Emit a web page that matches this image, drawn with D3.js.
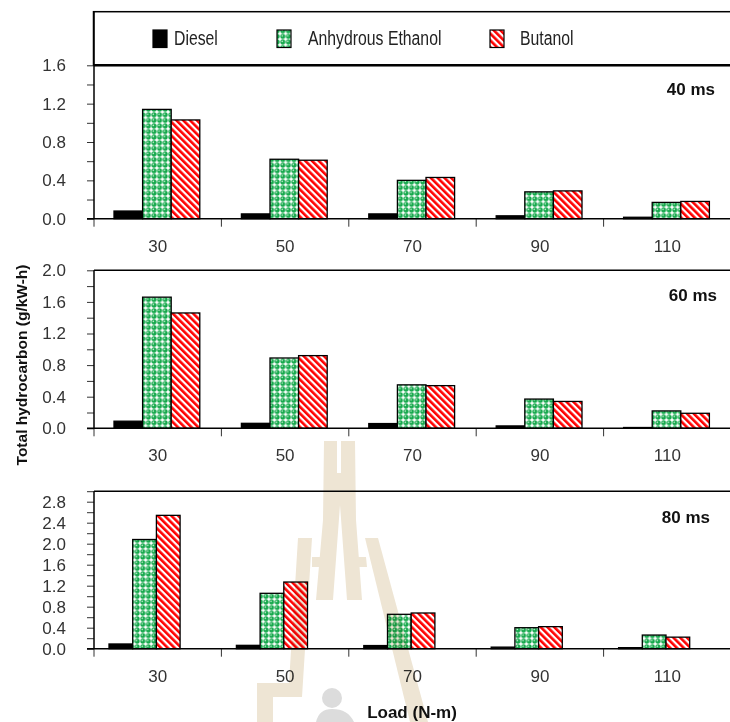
<!DOCTYPE html>
<html>
<head>
<meta charset="utf-8">
<script src="https://cdn.jsdelivr.net/npm/d3@7"></script>
<style>
body { margin: 0; background: #fff; }
svg text { font-family: "Liberation Sans", Arial, sans-serif; }
</style>
</head>
<body>
<svg id="chart" width="730" height="722"></svg>
<script>
// data (g/kW-h)
const loads = ['30', '50', '70', '90', '110'];
const series = ['Diesel', 'Anhydrous Ethanol', 'Butanol'];

const diesel40 = [0.08, 0.05, 0.05, 0.03, 0.015];
const ethanol40 = [1.14, 0.62, 0.40, 0.28, 0.17];
const butanol40 = [1.03, 0.61, 0.43, 0.29, 0.18];

const diesel60 = [0.09, 0.063, 0.06, 0.03, 0.01];
const ethanol60 = [1.66, 0.89, 0.55, 0.37, 0.22];
const butanol60 = [1.46, 0.92, 0.54, 0.34, 0.19];

const diesel80 = [0.09, 0.064, 0.06, 0.03, 0.02];
const ethanol80 = [2.08, 1.055, 0.655, 0.40, 0.26];
const butanol80 = [2.54, 1.27, 0.68, 0.42, 0.22];

const panelTags = ['40 ms', '60 ms', '80 ms'];
const yMax = [1.6, 2.0, 3.0];
const yLabelMax = [1.6, 2.0, 2.8];

const panelData = [
    [diesel40, ethanol40, butanol40],
    [diesel60, ethanol60, butanol60],
    [diesel80, ethanol80, butanol80]
];

const svg = d3.select('#chart');
const defs = svg.append('defs');

// fill patterns
const pe = defs.append('pattern').attr('id', 'pat-eth')
    .attr('patternUnits', 'userSpaceOnUse').attr('width', 5.6).attr('height', 5.6);
pe.append('rect').attr('width', 5.6).attr('height', 5.6).attr('fill', '#fff');
pe.append('circle').attr('cx', 2.8).attr('cy', 2.8).attr('r', 2.5).attr('fill', '#14a84b');
pe.append('circle').attr('cx', 2.2).attr('cy', 2.2).attr('r', 0.8).attr('fill', '#c4ecd0');

const pb = defs.append('pattern').attr('id', 'pat-but')
    .attr('patternUnits', 'userSpaceOnUse').attr('width', 4.8).attr('height', 10)
    .attr('patternTransform', 'rotate(-45)');
pb.append('rect').attr('width', 4.8).attr('height', 10).attr('fill', '#fff');
pb.append('rect').attr('width', 2.6).attr('height', 10).attr('fill', '#ff0000');

const fills = {'Diesel': '#000', 'Anhydrous Ethanol': 'url(#pat-eth)', 'Butanol': 'url(#pat-but)'};

const plotL = 94, plotR = 731;
const layout = [
    {top: 65.3, zero: 218.7, off: 20, bw: 28.6, tagX: 715, tagY: 95, topW: 2.5},
    {top: 270.3, zero: 428.3, off: 20, bw: 28.6, tagX: 717, tagY: 300.7, topW: 1.5},
    {top: 491.2, zero: 648.7, off: 15, bw: 23.7, tagX: 710, tagY: 522.7, topW: 1.5}
];

const x = d3.scaleBand().domain(loads).range([plotL, plotR]);

// legend box
svg.append('rect')
    .attr('x', 93.5).attr('y', 11.7)
    .attr('width', 700).attr('height', 53.6)
    .attr('fill', 'none').attr('stroke', '#000').attr('stroke-width', 1.5);

const legSwatchX = [153, 277, 490];
const legTextX = [174, 308, 520];
series.forEach((s, i) => {
    svg.append('rect')
        .attr('x', legSwatchX[i]).attr('y', 30)
        .attr('width', 14).attr('height', 17.5)
        .attr('fill', fills[s]).attr('stroke', '#000').attr('stroke-width', 1.2);
    svg.append('text')
        .attr('transform', `translate(${legTextX[i]},45) scale(1,1.25)`)
        .attr('font-size', 15.8)
        .attr('fill', '#222')
        .text(s);
});

layout.forEach((L, p) => {
    const g = svg.append('g');
    const y = d3.scaleLinear().domain([0, yMax[p]]).range([L.zero, L.top]);
    const inner = d3.scaleBand().domain(series).range([L.off, L.off + 3 * L.bw]);

    const rows = [];
    loads.forEach((l, i) => {
        series.forEach((s, j) => rows.push({load: l, s: s, v: panelData[p][j][i]}));
    });

    g.selectAll('rect.bar').data(rows)
        .enter().append('rect')
            .attr('class', 'bar')
            .attr('x', d => x(d.load) + inner(d.s))
            .attr('y', d => y(d.v))
            .attr('width', inner.bandwidth())
            .attr('height', d => y(0) - y(d.v))
            .attr('fill', d => fills[d.s])
            .attr('stroke', '#000')
            .attr('stroke-width', 1.3);

    // y axis
    const nTicks = Math.round(yMax[p] / 0.2);
    const ticks = d3.range(0, nTicks + 1).map(k => +(k * 0.2).toFixed(1));
    const yAxis = d3.axisLeft(y)
        .tickValues(ticks)
        .tickSize(7)
        .tickPadding(21)
        .tickFormat(d => (Math.round(d * 10) % 4 === 0 && d <= yLabelMax[p] + 1e-9) ? d3.format('.1f')(d) : '');
    const yAxisG = g.append('g').attr('transform', `translate(${plotL},0)`).call(yAxis);
    yAxisG.select('.domain').remove();
    yAxisG.selectAll('line').attr('stroke', '#333');
    yAxisG.selectAll('text').attr('font-size', 17).attr('fill', '#333')
        .style('font-family', '"Liberation Sans", Arial, sans-serif');

    // x axis labels
    const xAxisG = g.append('g').attr('transform', `translate(0,${L.zero})`)
        .call(d3.axisBottom(x).tickSize(0).tickPadding(21));
    xAxisG.select('.domain').remove();
    xAxisG.selectAll('text').attr('font-size', 17).attr('fill', '#333')
        .style('font-family', '"Liberation Sans", Arial, sans-serif');

    // category boundary ticks
    g.selectAll('line.xt').data(loads)
        .enter().append('line')
            .attr('class', 'xt')
            .attr('x1', d => x(d)).attr('x2', d => x(d))
            .attr('y1', L.zero).attr('y2', L.zero + 8)
            .attr('stroke', '#333').attr('stroke-width', 1);

    // frame lines
    g.append('line').attr('x1', plotL - 7).attr('x2', plotR)
        .attr('y1', y(0)).attr('y2', y(0))
        .attr('stroke', '#000').attr('stroke-width', 1.5);
    g.append('line').attr('x1', plotL).attr('x2', plotR)
        .attr('y1', L.top).attr('y2', L.top)
        .attr('stroke', '#000').attr('stroke-width', L.topW);
    g.append('line').attr('x1', plotL).attr('x2', plotL)
        .attr('y1', p === 0 ? 11.7 : L.top).attr('y2', L.zero)
        .attr('stroke', '#000').attr('stroke-width', 1.5);

    g.append('text')
        .attr('x', L.tagX).attr('y', L.tagY)
        .attr('text-anchor', 'end')
        .attr('font-size', 17).attr('font-weight', 'bold')
        .attr('fill', '#111')
        .text(panelTags[p]);
});

// axis titles
svg.append('text')
    .attr('transform', 'translate(27,365) rotate(-90)')
    .attr('text-anchor', 'middle')
    .attr('font-size', 15.5).attr('font-weight', 'bold')
    .attr('fill', '#111')
    .text('Total hydrocarbon (g/kW-h)');

svg.append('text')
    .attr('x', 412).attr('y', 717.5)
    .attr('text-anchor', 'middle')
    .attr('font-size', 17).attr('font-weight', 'bold')
    .attr('fill', '#111')
    .text('Load (N-m)');

// faint watermark of the source document
const wm = svg.append('g').style('mix-blend-mode', 'multiply');
const beige = '#eee5d4';
wm.append('path')
    .attr('fill', beige).attr('fill-rule', 'evenodd')
    .attr('d', 'M324,441 L355,441 L356,520 L362,600 L347,600 L340,505 L333,600 L316,600 L323,520 Z M337,441 L341,441 L341,473 L337,473 Z');
wm.append('path').attr('fill', beige)
    .attr('d', 'M312,557 L325,557 L324,567 L312,567 Z M355,557 L366,557 L367,567 L356,567 Z');
wm.append('path').attr('fill', beige)
    .attr('d', 'M298,538 L312,538 L302,697 L273,697 L273,722 L257,722 L257,683 L289,683 Z');
wm.append('path').attr('fill', beige)
    .attr('d', 'M365,538 L378,538 L428,722 L410,722 Z');
wm.append('circle').attr('cx', 332).attr('cy', 698).attr('r', 10).attr('fill', '#dcdcdc');
wm.append('path').attr('fill', '#dcdcdc')
    .attr('d', 'M316,722 Q319,709 332,709 Q348,709 354,722 Z');
</script>
</body>
</html>
